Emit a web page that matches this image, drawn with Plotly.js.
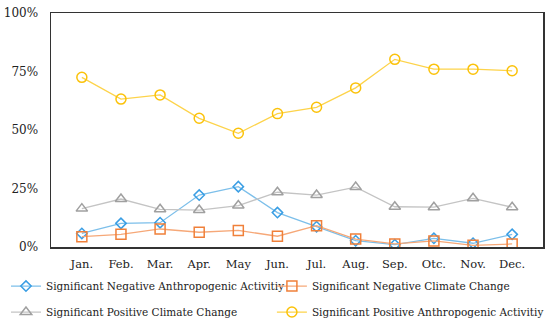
<!DOCTYPE html>
<html><head><meta charset="utf-8">
<script src="https://cdn.plot.ly/plotly-3.0.1.min.js"></script>
<style>html,body{margin:0;padding:0;background:#fff;}#chart{width:550px;height:327px;}</style>
</head><body><div id="chart"></div>
<script>
const months = ["Jan.","Feb.","Mar.","Apr.","May","Jun.","Jul.","Aug.","Sep.","Otc.","Nov.","Dec."];
const negAnthro = [5.8,10.1,10.4,22.2,25.8,14.7,8.7,2.7,1.0,3.7,1.6,5.4];
const negClimate = [4.4,5.4,7.7,6.3,7.1,4.6,9.1,3.4,1.3,2.6,0.7,1.3];
const posClimate = [16.4,20.5,16.1,15.8,17.7,23.4,22.2,25.6,17.2,17.0,20.8,17.0];
const posAnthro = [72.5,63.2,65.0,55.0,48.6,57.0,59.7,68.0,80.2,76.0,76.0,75.3];
const names = ["Significant Negative Anthropogenic Activitiy","Significant Negative Climate Change","Significant Positive Climate Change","Significant Positive Anthropogenic Activitiy"];
const FONT = 'DejaVu Serif';
const LF = 10.5;

function tr(y,name,lineColor,markColor,sym,size,leg){
  return {x:months,y:y,name:name,type:'scatter',mode:'lines+markers',legend:leg,
    line:{color:lineColor,width:1.3},
    marker:{symbol:sym,size:size,color:markColor,line:{color:markColor,width:1.5}}};
}
const data=[
  tr(negAnthro,names[0],'#7cbfea','#3a9ee4','diamond-open',8,'legend'),
  tr(negClimate,names[1],'#f6a878','#f0803a','square-open',10,'legend2'),
  tr(posClimate,names[2],'#c4c4c4','#a0a0a0','triangle-up-open',10,'legend3'),
  tr(posAnthro,names[3],'#fdd34a','#fbc20a','circle-open',10,'legend4')
];
function leg(x,y){return {x:x,y:y,xanchor:'left',yanchor:'middle',font:{family:FONT,size:LF,color:'#222'},
  bgcolor:'rgba(0,0,0,0)',borderwidth:0,itemwidth:30};}
const layout={
  width:550,height:327,margin:{l:51,r:7,t:13,b:80,autoexpand:false},
  paper_bgcolor:'#fff',plot_bgcolor:'#fff',
  font:{family:FONT,size:12,color:'#222'},
  showlegend:true,
  xaxis:{type:'category',showline:true,mirror:true,linecolor:'#333',linewidth:1.5,
    showgrid:false,ticks:'',zeroline:false,tickfont:{family:FONT,size:11.5},tickangle:0,automargin:false,
    ticklabelstandoff:6},
  yaxis:{range:[0,100],tickvals:[0,25,50,75,100],ticktext:['0%','25%','50%','75%','100%'],
    showline:true,mirror:true,linecolor:'#333',linewidth:1.5,showgrid:false,zeroline:false,
    ticks:'',ticklabelstandoff:9,tickfont:{family:FONT,size:12},automargin:false},
  legend:leg(-0.0915,-0.167),
  legend2:leg(0.449,-0.167),
  legend3:leg(-0.0915,-0.278),
  legend4:leg(0.449,-0.278)
};
Plotly.newPlot('chart',data,layout,{displayModeBar:false,staticPlot:true});
</script></body></html>
